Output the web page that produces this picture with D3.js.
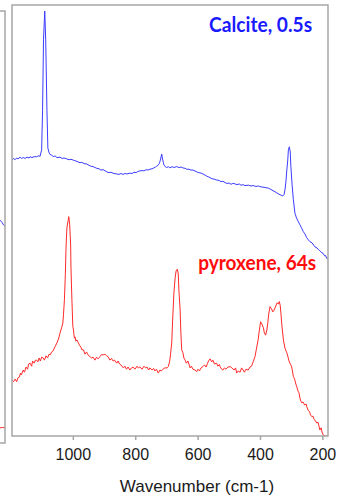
<!DOCTYPE html>
<html>
<head>
<meta charset="utf-8">
<script src="https://cdn.jsdelivr.net/npm/d3@7/dist/d3.min.js"></script>
<style>
body { margin: 0; background: #fff; }
</style>
</head>
<body>
<div id="chart-area"></div>
<script>
// spectra: [wavenumber (cm-1), intensity (a.u.)]
var calciteSpectrum = [[1195,640],[1190,644],[1185,641],[1180,645],[1176,643],[1169,647],[1165,644],[1159,646],[1153,644],[1147,647],[1140,645],[1137,648],[1131,646],[1124,648],[1116,648],[1110,650],[1105,649],[1100,664],[1097,756],[1094,919],[1090,986],[1087,919],[1083,756],[1080,668],[1076,657],[1073,653],[1068,652],[1063,648],[1057,650],[1051,646],[1041,647],[1035,644],[1028,645],[1020,643],[1012,641],[1006,642],[998,640],[990,638],[983,636],[977,634],[971,635],[964,632],[955,631],[948,628],[942,626],[935,625],[923,621],[916,620],[910,617],[903,618],[891,613],[884,611],[878,612],[868,609],[859,608],[852,607],[846,609],[839,607],[833,609],[826,608],[817,610],[810,609],[804,612],[797,611],[791,614],[785,615],[778,616],[772,615],[765,618],[759,617],[753,619],[746,620],[740,622],[735,624],[731,626],[727,628],[723,632],[721,636],[718,645],[715,654],[713,645],[710,635],[708,629],[704,625],[699,623],[693,625],[689,622],[682,625],[676,623],[667,625],[660,623],[653,624],[647,622],[640,621],[635,619],[628,619],[621,617],[615,617],[603,613],[596,611],[589,610],[580,607],[571,603],[564,601],[554,597],[547,596],[539,594],[531,593],[525,590],[519,591],[512,588],[506,586],[499,587],[493,584],[487,586],[480,585],[474,583],[467,585],[461,582],[454,583],[448,581],[437,582],[429,580],[422,581],[413,579],[405,580],[397,578],[387,577],[373,575],[365,572],[355,568],[346,564],[339,561],[333,559],[327,557],[323,560],[320,571],[317,589],[314,617],[311,640],[309,664],[306,671],[303,659],[301,625],[297,582],[293,548],[288,517],[283,506],[277,497],[272,490],[267,483],[261,474],[256,469],[251,461],[245,455],[240,451],[233,448],[228,443],[224,439],[217,436],[212,432],[208,430],[202,425],[198,424],[193,418],[190,419],[186,412],[182,411]];

var pyroxeneSpectrum = [[1195,130],[1190,126],[1185,132],[1180,126],[1176,135],[1171,137],[1168,146],[1165,142],[1159,153],[1155,148],[1150,160],[1145,155],[1142,167],[1137,169],[1132,162],[1129,174],[1124,169],[1120,176],[1116,176],[1112,172],[1108,181],[1104,174],[1100,183],[1095,181],[1091,176],[1086,186],[1081,181],[1076,190],[1073,188],[1068,195],[1064,197],[1057,207],[1051,216],[1046,225],[1041,239],[1036,251],[1032,262],[1030,281],[1027,316],[1024,374],[1022,432],[1019,483],[1013,509],[1010,490],[1007,443],[1006,392],[1003,316],[1000,254],[998,246],[995,227],[993,230],[990,220],[987,223],[982,216],[979,211],[974,206],[971,200],[966,200],[961,190],[956,195],[951,188],[945,184],[940,181],[935,183],[929,176],[924,183],[919,179],[913,184],[908,189],[903,188],[897,190],[892,186],[887,184],[881,176],[876,180],[871,174],[866,176],[859,169],[855,174],[850,167],[846,165],[838,158],[833,162],[828,155],[823,160],[817,153],[812,158],[807,160],[801,155],[794,162],[790,158],[785,160],[778,155],[772,162],[767,158],[762,160],[757,153],[753,158],[746,153],[741,157],[737,151],[732,155],[726,146],[721,153],[716,151],[711,155],[705,158],[698,158],[694,161],[690,172],[687,188],[683,216],[680,269],[676,332],[672,367],[669,383],[665,387],[662,376],[660,339],[656,292],[654,246],[651,200],[647,193],[644,181],[640,176],[636,169],[631,174],[624,158],[620,162],[615,155],[608,153],[603,149],[599,155],[594,151],[589,158],[583,161],[578,165],[573,160],[568,169],[565,174],[560,179],[555,172],[551,176],[546,167],[539,169],[535,162],[530,166],[528,161],[523,155],[519,153],[514,158],[509,155],[503,160],[496,161],[490,158],[483,153],[478,158],[475,146],[470,151],[464,148],[459,158],[454,153],[450,148],[445,155],[438,153],[432,160],[427,162],[422,172],[416,184],[411,204],[406,223],[402,246],[398,265],[394,260],[389,251],[386,239],[382,234],[378,246],[375,262],[372,283],[368,300],[363,295],[359,288],[355,292],[352,297],[348,304],[345,309],[341,306],[338,312],[335,302],[333,285],[330,258],[325,223],[320,204],[314,193],[310,183],[307,174],[304,169],[299,162],[296,151],[293,138],[289,132],[286,123],[282,114],[278,104],[275,100],[272,88],[269,81],[266,77],[262,79],[257,72],[252,74],[250,68],[246,60],[241,56],[238,49],[234,45],[230,46],[227,39],[224,37],[218,30],[214,32],[211,23],[208,14],[204,19],[201,9],[197,2],[192,0],[182,0]];

// tail end of the neighbouring panel, cut off at the left edge
var neighbourCalcite = [[198,516],[192,511],[187,505],[182,502]];
var neighbourPyroxene = [[198,35],[190,36],[182,35]];

var xTicks = [1000, 800, 600, 400, 200];
var xDomain = [1195, 182];
var yDomain = [0, 1000];

var labels = [
    { text: 'Calcite, 0.5s', color: '#1a1aff', wn: 233, value: 937, len: 103 },
    { text: 'pyroxene, 64s', color: '#ff0c0c', wn: 220, value: 384, len: 118 }
];

var margin = { left: 12, right: 22, top: 5, bottom: 62 };
var width = 350 - margin.left - margin.right,
    height = 498 - margin.top - margin.bottom;

var svg = d3.select('#chart-area')
    .append('svg')
    .attr('width', 350)
    .attr('height', 498);

var g = svg.append('g')
    .attr('transform', 'translate(' + margin.left + ', ' + margin.top + ')');

var x = d3.scaleLinear().domain(xDomain).range([0, width]);
var y = d3.scaleLinear().domain(yDomain).range([height, 0]);

var line = d3.line()
    .x(function (d) { return x(d[0]); })
    .y(function (d) { return y(d[1]); });

// neighbouring panel (mostly off-screen)
var gn = svg.append('g')
    .attr('transform', 'translate(' + (5 - width) + ', 11)');
var yn = d3.scaleLinear().domain(yDomain).range([432, 0]);
var lineN = d3.line()
    .x(function (d) { return x(d[0]); })
    .y(function (d) { return yn(d[1]); });
gn.append('path').datum(neighbourCalcite)
    .attr('d', lineN).attr('fill', 'none').attr('stroke', '#3b3bff').attr('stroke-width', 1);
gn.append('path').datum(neighbourPyroxene)
    .attr('d', lineN).attr('fill', 'none').attr('stroke', '#ff2a2a').attr('stroke-width', 1);
gn.append('rect')
    .attr('width', width).attr('height', 432)
    .attr('fill', 'none').attr('stroke', '#a6a6a6').attr('stroke-width', 1.5);

// main panel
g.append('clipPath').attr('id', 'clip')
    .append('rect').attr('width', width).attr('height', height);

var plot = g.append('g').attr('clip-path', 'url(#clip)');

plot.append('path').datum(calciteSpectrum)
    .attr('d', line)
    .attr('fill', 'none')
    .attr('stroke', '#3b3bff')
    .attr('stroke-width', 1);

plot.append('path').datum(pyroxeneSpectrum)
    .attr('d', line)
    .attr('fill', 'none')
    .attr('stroke', '#ff2a2a')
    .attr('stroke-width', 1);

g.append('rect')
    .attr('width', width)
    .attr('height', height)
    .attr('fill', 'none')
    .attr('stroke', '#a6a6a6')
    .attr('stroke-width', 1.5);

var xAxis = g.append('g')
    .attr('transform', 'translate(0,' + height + ')')
    .call(d3.axisBottom(x).tickValues(xTicks).tickSize(4).tickPadding(8.5).tickFormat(d3.format('d')));
xAxis.select('.domain').remove();
xAxis.selectAll('line').attr('stroke', '#a6a6a6').attr('stroke-width', 1.5);
xAxis.selectAll('text')
    .attr('font-family', '"Liberation Sans", Arial, sans-serif')
    .attr('font-size', '16px')
    .attr('fill', '#1a1a1a');

g.append('text')
    .attr('x', x(602))
    .attr('y', height + 56)
    .attr('text-anchor', 'middle')
    .attr('font-family', '"Liberation Sans", Arial, sans-serif')
    .attr('font-size', '17px')
    .attr('fill', '#1a1a1a')
    .text('Wavenumber (cm-1)');

g.selectAll('.label')
    .data(labels)
    .enter()
    .append('text')
    .attr('class', 'label')
    .attr('x', function (d) { return x(d.wn); })
    .attr('y', function (d) { return y(d.value); })
    .attr('text-anchor', 'end')
    .attr('font-family', 'Lato, "Open Sans", sans-serif')
    .attr('font-weight', 'bold')
    .attr('font-size', '20px')
    .attr('fill', function (d) { return d.color; })
    .attr('textLength', function (d) { return d.len; })
    .attr('lengthAdjust', 'spacingAndGlyphs')
    .text(function (d) { return d.text; });
</script>
</body>
</html>
